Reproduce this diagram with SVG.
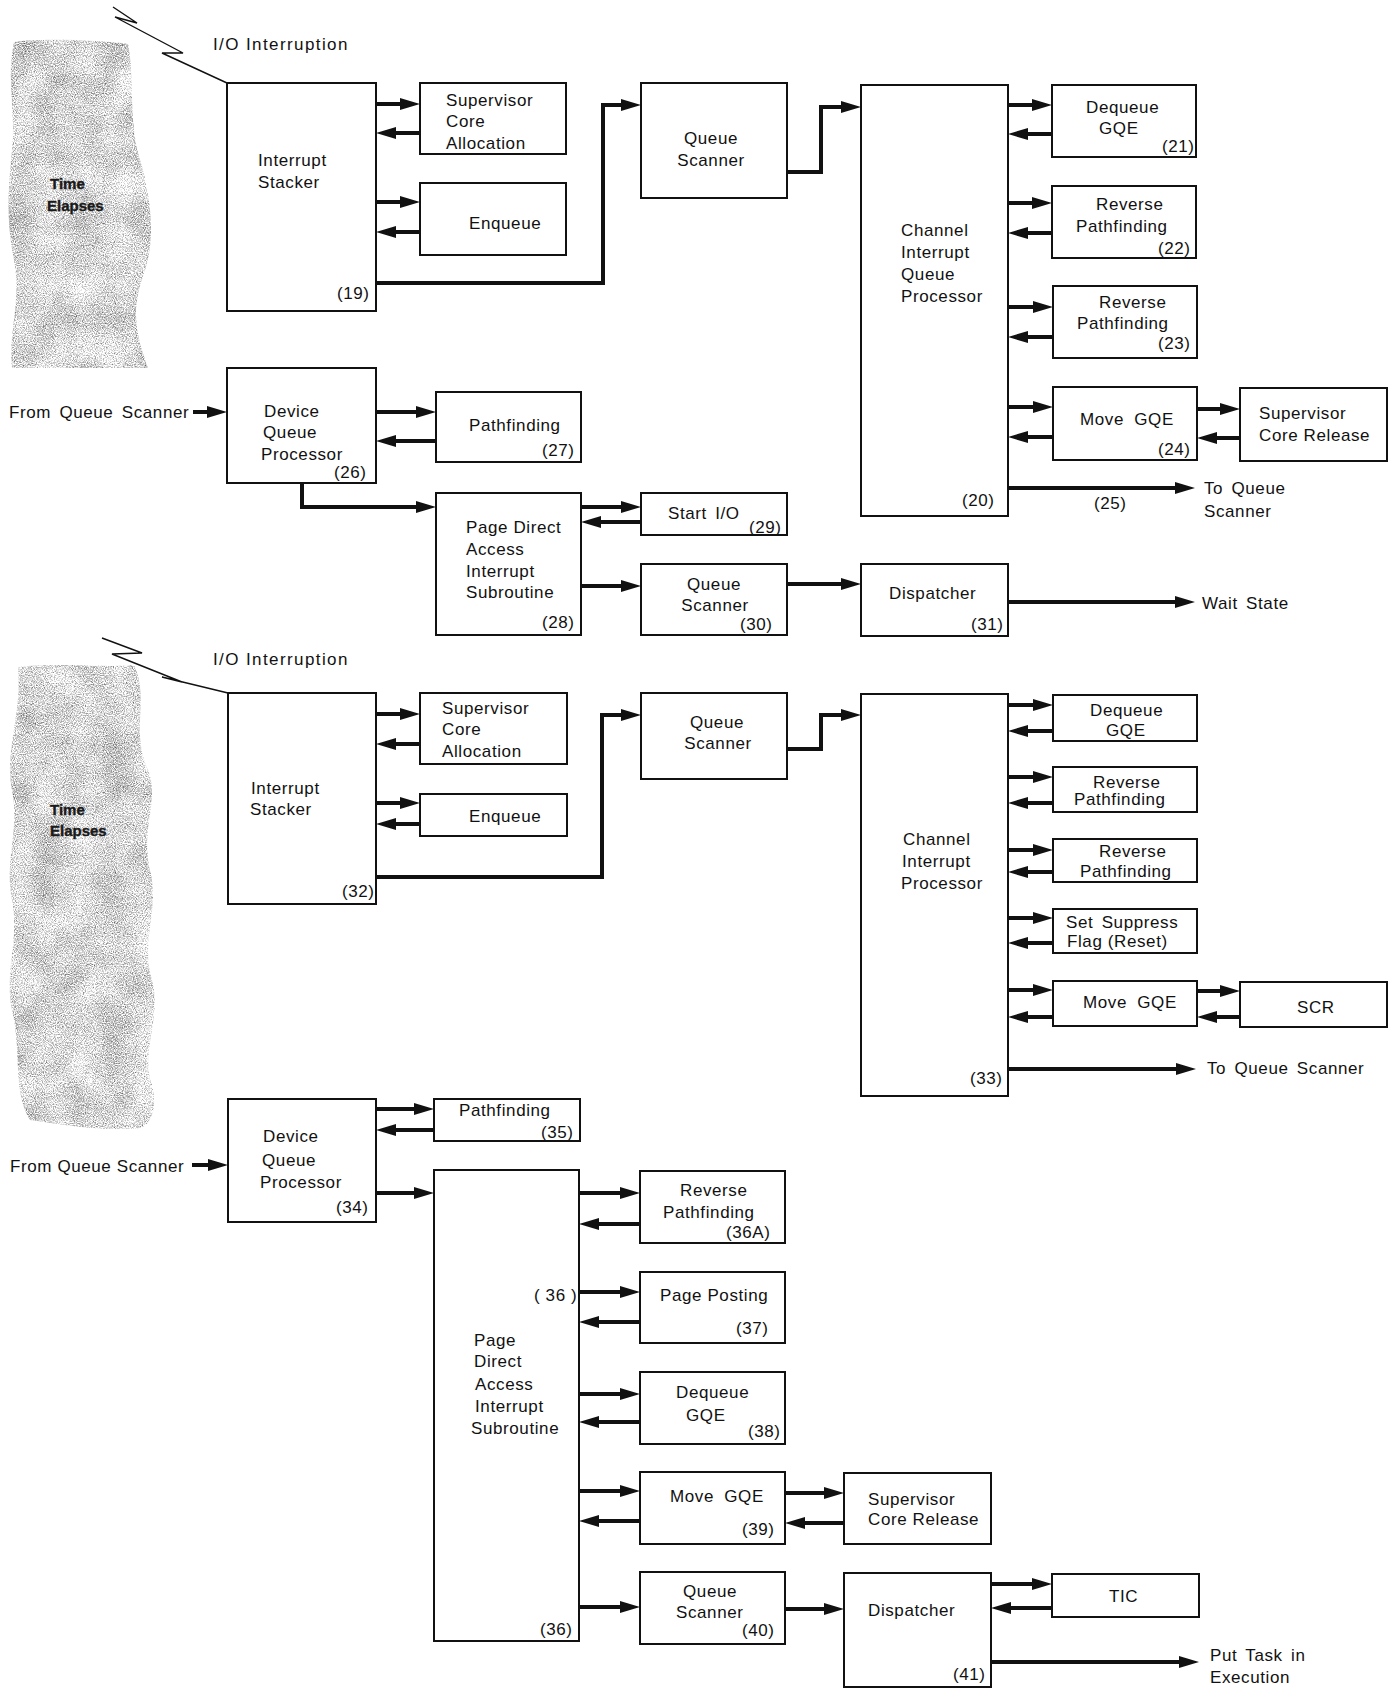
<svg xmlns="http://www.w3.org/2000/svg" width="1396" height="1690" viewBox="0 0 1396 1690">
  <style>
    .box { fill: #fff; stroke: #111; stroke-width: 2; }
    .t { font-family: "Liberation Sans", Arial, sans-serif; font-size: 17px; letter-spacing: 0.6px; fill: #111; }
    .t.wide { letter-spacing: 1.4px; }
    .m { text-anchor: middle; }
    .c { fill: none; stroke: #111; stroke-width: 4; marker-end: url(#ah); }
    .bolt { fill: none; stroke: #111; stroke-width: 1.4; stroke-linejoin: miter; }
    .band { fill: #000; filter: url(#grain); }
    .te { font-family: "Liberation Sans", Arial, sans-serif; font-size: 15px; font-weight: bold; fill: #1a1a1a; stroke: #1a1a1a; stroke-width: 0.4; }
  </style>
  <defs>
    <marker id="ah" viewBox="0 0 20 12" refX="10" refY="6" markerWidth="20" markerHeight="12" markerUnits="userSpaceOnUse" orient="auto">
      <path d="M0,0 L20,6 L0,12 Z" fill="#111"/>
    </marker>
    <!-- speckled stipple texture with soft blotches for the "Time Elapses" bands -->
    <filter id="grain" x="-5%" y="-5%" width="110%" height="110%" color-interpolation-filters="sRGB">
      <feTurbulence type="fractalNoise" baseFrequency="0.9" numOctaves="2" seed="7" result="fine"/>
      <feColorMatrix in="fine" type="matrix" values="0 0 0 0 0  0 0 0 0 0  0 0 0 0 0  1 0 0 0 0" result="fa"/>
      <feTurbulence type="fractalNoise" baseFrequency="0.03" numOctaves="2" seed="3" result="coarse"/>
      <feColorMatrix in="coarse" type="matrix" values="0 0 0 0 0  0 0 0 0 0  0 0 0 0 0  1 0 0 0 0" result="ca"/>
      <feComposite in="fa" in2="ca" operator="arithmetic" k1="0" k2="1.5" k3="0.45" k4="-0.78" result="mix"/>
      <feFlood flood-color="#3a3a3a" result="ink"/>
      <feComposite in="ink" in2="mix" operator="in" result="col"/>
      <feComposite in="col" in2="SourceAlpha" operator="in"/>
    </filter>
  </defs>

  <rect x="0" y="0" width="1396" height="1690" fill="#fff"/>

  <!-- time-elapses bands -->
  <g id="band-top">
    <path class="band" d="M14,42 C40,38 100,40 128,44 C135,80 128,120 140,160 C152,200 155,240 145,270 C135,300 130,320 148,368 L12,368 C8,330 22,300 14,260 C6,220 8,190 12,150 C16,110 6,80 14,42 Z"/>
    <text class="te" x="50" y="189">Time</text>
    <text class="te" x="47" y="211">Elapses</text>
  </g>
  <g id="band-bottom">
    <path class="band" d="M18,667 C60,662 100,668 134,665 C150,700 130,730 148,770 C160,800 140,830 150,870 C160,910 140,940 152,980 C162,1020 140,1050 152,1085 C158,1110 150,1125 140,1128 C100,1132 60,1124 30,1120 C12,1090 22,1050 12,1010 C4,970 20,940 12,900 C4,860 20,830 12,790 C4,750 22,720 18,667 Z"/>
    <text class="te" x="50" y="815">Time</text>
    <text class="te" x="50" y="836">Elapses</text>
  </g>

  <!-- interruption bolts -->
  <g id="bolts">
    <polyline class="bolt" points="113,7 137,23 115,17 183,53 162,53 227,83"/>
    <polyline class="bolt" points="102,638 142,653 112,654 182,682 162,677 228,693"/>
  </g>

  <!-- free labels -->
  <g id="labels">
    <text class="t wide" x="213" y="50">I/O Interruption</text>
    <text class="t wide" x="213" y="665">I/O Interruption</text>
    <text class="t" x="9" y="418" word-spacing="3">From Queue Scanner</text>
    <text class="t" x="10" y="1172">From Queue Scanner</text>
    <text class="t" x="1204" y="494" word-spacing="3">To Queue</text>
    <text class="t" x="1204" y="517">Scanner</text>
    <text class="t" x="1094" y="509">(25)</text>
    <text class="t" x="1202" y="609" word-spacing="3">Wait State</text>
    <text class="t" x="1207" y="1074" word-spacing="3">To Queue Scanner</text>
    <text class="t" x="1210" y="1661" word-spacing="3">Put Task in</text>
    <text class="t" x="1210" y="1683">Execution</text>
  </g>

  <!-- connectors -->
  <g id="connectors">
    <path class="c" d="M376,104H410"/>
    <path class="c" d="M420,133H386"/>
    <path class="c" d="M376,202H410"/>
    <path class="c" d="M420,232H386"/>
    <path class="c" d="M376,283H603V105H631"/>
    <path class="c" d="M787,172H821V107H851"/>
    <path class="c" d="M1008,105H1042"/>
    <path class="c" d="M1052,134H1018"/>
    <path class="c" d="M1008,203H1042"/>
    <path class="c" d="M1052,233H1018"/>
    <path class="c" d="M1008,307H1043"/>
    <path class="c" d="M1053,337H1018"/>
    <path class="c" d="M1008,407H1043"/>
    <path class="c" d="M1053,437H1018"/>
    <path class="c" d="M1197,409H1230"/>
    <path class="c" d="M1240,438H1207"/>
    <path class="c" d="M1008,488H1185"/>
    <path class="c" d="M193,412H217"/>
    <path class="c" d="M376,412H426"/>
    <path class="c" d="M436,441H386"/>
    <path class="c" d="M302,483V507H426"/>
    <path class="c" d="M581,507H631"/>
    <path class="c" d="M641,522H591"/>
    <path class="c" d="M581,586H631"/>
    <path class="c" d="M787,584H851"/>
    <path class="c" d="M1008,602H1185"/>

    <path class="c" d="M376,714H410"/>
    <path class="c" d="M420,744H386"/>
    <path class="c" d="M376,803H410"/>
    <path class="c" d="M420,824H386"/>
    <path class="c" d="M376,877H602V715H631"/>
    <path class="c" d="M787,749H821V715H851"/>
    <path class="c" d="M1008,705H1043"/>
    <path class="c" d="M1053,731H1018"/>
    <path class="c" d="M1008,777H1043"/>
    <path class="c" d="M1053,803H1018"/>
    <path class="c" d="M1008,850H1043"/>
    <path class="c" d="M1053,872H1018"/>
    <path class="c" d="M1008,918H1043"/>
    <path class="c" d="M1053,943H1018"/>
    <path class="c" d="M1008,990H1043"/>
    <path class="c" d="M1053,1017H1018"/>
    <path class="c" d="M1197,991H1230"/>
    <path class="c" d="M1240,1017H1207"/>
    <path class="c" d="M1008,1069H1186"/>

    <path class="c" d="M192,1165H218"/>
    <path class="c" d="M376,1109H424"/>
    <path class="c" d="M434,1130H386"/>
    <path class="c" d="M376,1193H424"/>
    <path class="c" d="M579,1193H630"/>
    <path class="c" d="M640,1224H589"/>
    <path class="c" d="M579,1292H630"/>
    <path class="c" d="M640,1322H589"/>
    <path class="c" d="M579,1394H630"/>
    <path class="c" d="M640,1422H589"/>
    <path class="c" d="M579,1491H630"/>
    <path class="c" d="M640,1521H589"/>
    <path class="c" d="M785,1493H834"/>
    <path class="c" d="M844,1523H795"/>
    <path class="c" d="M579,1607H630"/>
    <path class="c" d="M785,1609H834"/>
    <path class="c" d="M991,1584H1042"/>
    <path class="c" d="M1052,1608H1001"/>
    <path class="c" d="M991,1662H1189"/>
  </g>

  <!-- first interrupt sequence -->
  <g id="interrupt-stacker-19">
    <rect class="box" x="227" y="83" width="149" height="228"/>
    <text class="t" x="258" y="166">Interrupt</text>
    <text class="t" x="258" y="188">Stacker</text>
    <text class="t" x="337" y="299">(19)</text>
  </g>
  <g id="supervisor-core-allocation-1">
    <rect class="box" x="420" y="83" width="146" height="71"/>
    <text class="t" x="446" y="106">Supervisor</text>
    <text class="t" x="446" y="127">Core</text>
    <text class="t" x="446" y="149">Allocation</text>
  </g>
  <g id="enqueue-1">
    <rect class="box" x="420" y="183" width="146" height="72"/>
    <text class="t" x="469" y="229">Enqueue</text>
  </g>
  <g id="queue-scanner-1">
    <rect class="box" x="641" y="83" width="146" height="115"/>
    <text class="t m" x="711" y="144">Queue</text>
    <text class="t m" x="711" y="166">Scanner</text>
  </g>
  <g id="channel-interrupt-queue-processor-20">
    <rect class="box" x="861" y="85" width="147" height="431"/>
    <text class="t" x="901" y="236">Channel</text>
    <text class="t" x="901" y="258">Interrupt</text>
    <text class="t" x="901" y="280">Queue</text>
    <text class="t" x="901" y="302">Processor</text>
    <text class="t" x="962" y="506">(20)</text>
  </g>
  <g id="dequeue-gqe-21">
    <rect class="box" x="1052" y="85" width="144" height="72"/>
    <text class="t" x="1086" y="113">Dequeue</text>
    <text class="t" x="1099" y="134">GQE</text>
    <text class="t" x="1162" y="152">(21)</text>
  </g>
  <g id="reverse-pathfinding-22">
    <rect class="box" x="1052" y="186" width="144" height="72"/>
    <text class="t" x="1096" y="210">Reverse</text>
    <text class="t" x="1076" y="232">Pathfinding</text>
    <text class="t" x="1158" y="254">(22)</text>
  </g>
  <g id="reverse-pathfinding-23">
    <rect class="box" x="1053" y="286" width="144" height="72"/>
    <text class="t" x="1099" y="308">Reverse</text>
    <text class="t" x="1077" y="329">Pathfinding</text>
    <text class="t" x="1158" y="349">(23)</text>
  </g>
  <g id="move-gqe-24">
    <rect class="box" x="1053" y="387" width="144" height="73"/>
    <text class="t" x="1080" y="425" word-spacing="5">Move GQE</text>
    <text class="t" x="1158" y="455">(24)</text>
  </g>
  <g id="supervisor-core-release-1">
    <rect class="box" x="1240" y="388" width="147" height="73"/>
    <text class="t" x="1259" y="419">Supervisor</text>
    <text class="t" x="1259" y="441">Core Release</text>
  </g>
  <g id="device-queue-processor-26">
    <rect class="box" x="227" y="368" width="149" height="115"/>
    <text class="t" x="264" y="417">Device</text>
    <text class="t" x="263" y="438">Queue</text>
    <text class="t" x="261" y="460">Processor</text>
    <text class="t" x="334" y="478">(26)</text>
  </g>
  <g id="pathfinding-27">
    <rect class="box" x="436" y="392" width="145" height="70"/>
    <text class="t" x="469" y="431">Pathfinding</text>
    <text class="t" x="542" y="456">(27)</text>
  </g>
  <g id="page-direct-access-28">
    <rect class="box" x="436" y="493" width="145" height="142"/>
    <text class="t" x="466" y="533">Page Direct</text>
    <text class="t" x="466" y="555">Access</text>
    <text class="t" x="466" y="577">Interrupt</text>
    <text class="t" x="466" y="598">Subroutine</text>
    <text class="t" x="542" y="628">(28)</text>
  </g>
  <g id="start-io-29">
    <rect class="box" x="641" y="493" width="146" height="42"/>
    <text class="t" x="668" y="519" word-spacing="3">Start I/O</text>
    <text class="t" x="749" y="533">(29)</text>
  </g>
  <g id="queue-scanner-30">
    <rect class="box" x="641" y="564" width="146" height="71"/>
    <text class="t m" x="714" y="590">Queue</text>
    <text class="t m" x="715" y="611">Scanner</text>
    <text class="t" x="740" y="630">(30)</text>
  </g>
  <g id="dispatcher-31">
    <rect class="box" x="861" y="564" width="147" height="72"/>
    <text class="t" x="889" y="599">Dispatcher</text>
    <text class="t" x="971" y="630">(31)</text>
  </g>

  <!-- second interrupt sequence -->
  <g id="interrupt-stacker-32">
    <rect class="box" x="228" y="693" width="148" height="211"/>
    <text class="t" x="251" y="794">Interrupt</text>
    <text class="t" x="250" y="815">Stacker</text>
    <text class="t" x="342" y="897">(32)</text>
  </g>
  <g id="supervisor-core-allocation-2">
    <rect class="box" x="420" y="693" width="147" height="71"/>
    <text class="t" x="442" y="714">Supervisor</text>
    <text class="t" x="442" y="735">Core</text>
    <text class="t" x="442" y="757">Allocation</text>
  </g>
  <g id="enqueue-2">
    <rect class="box" x="420" y="794" width="147" height="42"/>
    <text class="t" x="469" y="822">Enqueue</text>
  </g>
  <g id="queue-scanner-2">
    <rect class="box" x="641" y="693" width="146" height="86"/>
    <text class="t m" x="717" y="728">Queue</text>
    <text class="t m" x="718" y="749">Scanner</text>
  </g>
  <g id="channel-interrupt-processor-33">
    <rect class="box" x="861" y="694" width="147" height="402"/>
    <text class="t" x="903" y="845">Channel</text>
    <text class="t" x="902" y="867">Interrupt</text>
    <text class="t" x="901" y="889">Processor</text>
    <text class="t" x="970" y="1084">(33)</text>
  </g>
  <g id="dequeue-gqe-2">
    <rect class="box" x="1053" y="695" width="144" height="46"/>
    <text class="t" x="1090" y="716">Dequeue</text>
    <text class="t" x="1106" y="736">GQE</text>
  </g>
  <g id="reverse-pathfinding-2a">
    <rect class="box" x="1053" y="767" width="144" height="45"/>
    <text class="t" x="1093" y="788">Reverse</text>
    <text class="t" x="1074" y="805">Pathfinding</text>
  </g>
  <g id="reverse-pathfinding-2b">
    <rect class="box" x="1053" y="839" width="144" height="43"/>
    <text class="t" x="1099" y="857">Reverse</text>
    <text class="t" x="1080" y="877">Pathfinding</text>
  </g>
  <g id="set-suppress-flag">
    <rect class="box" x="1053" y="909" width="144" height="44"/>
    <text class="t" x="1066" y="928" word-spacing="3">Set Suppress</text>
    <text class="t" x="1067" y="947">Flag (Reset)</text>
  </g>
  <g id="move-gqe-2">
    <rect class="box" x="1053" y="981" width="144" height="45"/>
    <text class="t" x="1083" y="1008" word-spacing="5">Move GQE</text>
  </g>
  <g id="scr">
    <rect class="box" x="1240" y="982" width="147" height="45"/>
    <text class="t" x="1297" y="1013">SCR</text>
  </g>
  <g id="device-queue-processor-34">
    <rect class="box" x="228" y="1099" width="148" height="123"/>
    <text class="t" x="263" y="1142">Device</text>
    <text class="t" x="262" y="1166">Queue</text>
    <text class="t" x="260" y="1188">Processor</text>
    <text class="t" x="336" y="1213">(34)</text>
  </g>
  <g id="pathfinding-35">
    <rect class="box" x="434" y="1099" width="146" height="42"/>
    <text class="t" x="459" y="1116">Pathfinding</text>
    <text class="t" x="541" y="1138">(35)</text>
  </g>
  <g id="page-direct-access-36">
    <rect class="box" x="434" y="1170" width="145" height="471"/>
    <text class="t" x="534" y="1301">( 36 )</text>
    <text class="t" x="474" y="1346">Page</text>
    <text class="t" x="474" y="1367">Direct</text>
    <text class="t" x="475" y="1390">Access</text>
    <text class="t" x="475" y="1412">Interrupt</text>
    <text class="t" x="471" y="1434">Subroutine</text>
    <text class="t" x="540" y="1635">(36)</text>
  </g>
  <g id="reverse-pathfinding-36a">
    <rect class="box" x="640" y="1171" width="145" height="72"/>
    <text class="t" x="680" y="1196">Reverse</text>
    <text class="t" x="663" y="1218">Pathfinding</text>
    <text class="t" x="726" y="1238">(36A)</text>
  </g>
  <g id="page-posting-37">
    <rect class="box" x="640" y="1272" width="145" height="71"/>
    <text class="t" x="660" y="1301">Page Posting</text>
    <text class="t" x="736" y="1334">(37)</text>
  </g>
  <g id="dequeue-gqe-38">
    <rect class="box" x="640" y="1372" width="145" height="72"/>
    <text class="t" x="676" y="1398">Dequeue</text>
    <text class="t" x="686" y="1421">GQE</text>
    <text class="t" x="748" y="1437">(38)</text>
  </g>
  <g id="move-gqe-39">
    <rect class="box" x="640" y="1472" width="145" height="72"/>
    <text class="t" x="670" y="1502" word-spacing="5">Move GQE</text>
    <text class="t" x="742" y="1535">(39)</text>
  </g>
  <g id="supervisor-core-release-2">
    <rect class="box" x="844" y="1473" width="147" height="71"/>
    <text class="t" x="868" y="1505">Supervisor</text>
    <text class="t" x="868" y="1525">Core Release</text>
  </g>
  <g id="queue-scanner-40">
    <rect class="box" x="640" y="1572" width="145" height="72"/>
    <text class="t" x="683" y="1597">Queue</text>
    <text class="t" x="676" y="1618">Scanner</text>
    <text class="t" x="742" y="1636">(40)</text>
  </g>
  <g id="dispatcher-41">
    <rect class="box" x="844" y="1573" width="147" height="114"/>
    <text class="t" x="868" y="1616">Dispatcher</text>
    <text class="t" x="953" y="1680">(41)</text>
  </g>
  <g id="tic">
    <rect class="box" x="1052" y="1574" width="147" height="43"/>
    <text class="t" x="1109" y="1602">TIC</text>
  </g>
</svg>
